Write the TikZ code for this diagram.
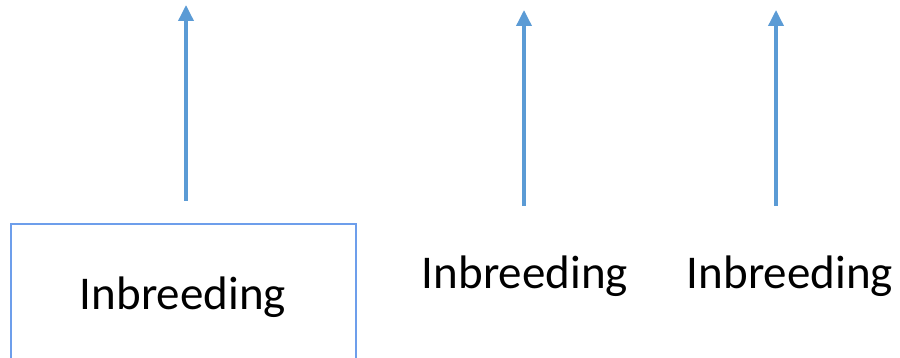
\documentclass[tikz,border=0pt]{standalone}
\usepackage{fontspec}
\setmainfont{Carlito}
\usetikzlibrary{arrows.meta}
\definecolor{arrowblue}{HTML}{5B9BD5}
\definecolor{boxblue}{HTML}{6D9EEB}
\tikzset{
  upar/.style={draw=arrowblue, line width=3.5pt, -{Triangle[width=15pt,length=16pt]}, arrowblue},
  framebox/.style={draw=boxblue, line width=1.6pt, minimum width=345pt, minimum height=146pt, inner sep=0pt},
  lbl/.style={font=\fontsize{47}{56}\selectfont, inner sep=0pt, anchor=base}
}
\begin{document}
\begin{tikzpicture}[x=1pt,y=-1pt]
\useasboundingbox (0,0) rectangle (900,358);
\clip (0,0) rectangle (900,358);
\node[framebox] (box) at (183.5,297) {};
\node[lbl] (t1) at (183,309) {Inbreeding};
\node[lbl] (t2) at (525,288) {Inbreeding};
\node[lbl] (t3) at (790,289) {Inbreeding};
\coordinate (a1s) at (186,201);
\coordinate (a1e) at (186,5);
\coordinate (a2s) at (524,206);
\coordinate (a2e) at (524,10);
\coordinate (a3s) at (776,206);
\coordinate (a3e) at (776,10);
\draw[upar] (a1s) -- (a1e);
\draw[upar] (a2s) -- (a2e);
\draw[upar] (a3s) -- (a3e);
\end{tikzpicture}
\end{document}
